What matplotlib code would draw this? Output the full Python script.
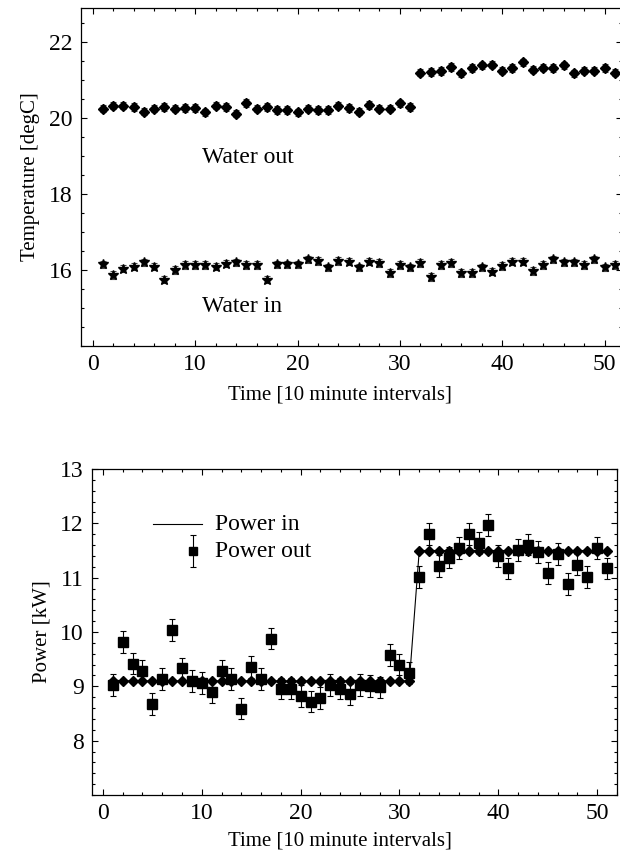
import numpy as np
import matplotlib
matplotlib.use('Agg')
import matplotlib.pyplot as plt
from matplotlib.ticker import MultipleLocator

plt.rcParams['font.family'] = ['Liberation Serif', 'DejaVu Serif']

# ---------------- data ----------------
time = list(range(1, 52))

water_out = [20.25, 20.33, 20.33, 20.30, 20.17, 20.25, 20.30, 20.25, 20.27, 20.27,
             20.15, 20.33, 20.30, 20.12, 20.40, 20.25, 20.30, 20.22, 20.22, 20.15,
             20.25, 20.22, 20.22, 20.33, 20.27, 20.17, 20.34, 20.25, 20.25, 20.39,
             20.30, 21.20, 21.22, 21.24, 21.35, 21.18, 21.32, 21.39, 21.41, 21.25,
             21.32, 21.47, 21.28, 21.33, 21.32, 21.39, 21.18, 21.25, 21.25, 21.32,
             21.20]

water_in = [16.15, 15.87, 16.04, 16.09, 16.20, 16.09, 15.75, 16.00, 16.13, 16.13,
            16.13, 16.09, 16.17, 16.20, 16.13, 16.13, 15.75, 16.15, 16.15, 16.15,
            16.28, 16.24, 16.07, 16.24, 16.22, 16.07, 16.22, 16.18, 15.93, 16.13,
            16.07, 16.18, 15.81, 16.13, 16.18, 15.93, 15.93, 16.07, 15.96, 16.10,
            16.22, 16.22, 15.98, 16.13, 16.28, 16.20, 16.20, 16.13, 16.28, 16.07,
            16.13]

temp_err = 0.1

power_in = [9.1, 9.1, 9.1, 9.1, 9.1, 9.1, 9.1, 9.1, 9.1, 9.1,
            9.1, 9.1, 9.1, 9.1, 9.1, 9.1, 9.1, 9.1, 9.1, 9.1,
            9.1, 9.1, 9.1, 9.1, 9.1, 9.1, 9.1, 9.1, 9.1, 9.1,
            9.1, 11.5, 11.5, 11.5, 11.5, 11.5, 11.5, 11.5, 11.5, 11.5,
            11.5, 11.5, 11.5, 11.5, 11.5, 11.5, 11.5, 11.5, 11.5, 11.5,
            11.5]

power_out = [9.02, 9.82, 9.42, 9.28, 8.68, 9.13, 10.04, 9.33, 9.10, 9.06,
             8.90, 9.28, 9.13, 8.59, 9.36, 9.13, 9.88, 8.96, 8.96, 8.82,
             8.72, 8.79, 9.02, 8.96, 8.85, 9.02, 9.00, 8.98, 9.58, 9.40,
             9.25, 11.01, 11.81, 11.21, 11.37, 11.54, 11.81, 11.64, 11.97, 11.40,
             11.17, 11.51, 11.61, 11.47, 11.09, 11.44, 10.89, 11.24, 11.01, 11.54,
             11.17]

power_err = 0.2

x_ticks = [0, 10, 20, 30, 40, 50]
temp_ticks = [16, 18, 20, 22]
power_ticks = [8, 9, 10, 11, 12, 13]

# ---------------- figure ----------------
fig = plt.figure(figsize=(6.2, 8.59), dpi=100)
W, H = 620.0, 859.0
ax1 = fig.add_axes([80.5 / W, 1 - 346 / H, (622 - 80.5) / W, (346 - 8) / H])
ax2 = fig.add_axes([92 / W, 1 - 795 / H, (617 - 92) / W, (795 - 469) / H])

FS_TICK = 17
FS_LAB = 15

for ax in (ax1, ax2):
    ax.tick_params(which='both', direction='in', top=True, right=True,
                   labelsize=FS_TICK, width=0.8, pad=6)
    ax.tick_params(which='major', length=4)
    ax.tick_params(which='minor', length=2.5)
    for s in ax.spines.values():
        s.set_linewidth(0.9)
    ax.set_xticks(x_ticks)
    ax.xaxis.set_minor_locator(MultipleLocator(2))

# --- top: temperatures ---
ax1.errorbar(time, water_out, yerr=temp_err, fmt='D', ms=4.8, color='black',
             ecolor='#444444', elinewidth=0.8, capsize=2.5, capthick=0.8)
ax1.errorbar(time, water_in, yerr=temp_err, fmt='*', ms=7, color='black',
             ecolor='#444444', elinewidth=0.8, capsize=2.5, capthick=0.8)
ax1.set_xlim(-1.2, 51.7)
ax1.set_ylim(14.0, 22.9)
ax1.set_yticks(temp_ticks)
ax1.yaxis.set_minor_locator(MultipleLocator(0.5))
ax1.set_xlabel('Time [10 minute intervals]', fontsize=FS_LAB, labelpad=7, x=0.48)
ax1.set_ylabel('Temperature [degC]', fontsize=FS_LAB, labelpad=6)
ax1.text(10.7, 18.97, 'Water out', fontsize=FS_TICK, va='center', ha='left')
ax1.text(10.7, 15.03, 'Water in', fontsize=FS_TICK, va='center', ha='left')

# --- bottom: power ---
ax2.plot(time, power_in, '-', color='black', lw=0.8, marker='D', ms=5,
         mfc='black', mec='black')
ax2.errorbar(time, power_out, yerr=power_err, fmt='s', ms=7.5, color='black',
             ecolor='black', elinewidth=0.8, capsize=2.5, capthick=0.8)
ax2.set_xlim(-1.1, 52.0)
ax2.set_ylim(7.0, 13.0)
ax2.set_yticks(power_ticks)
ax2.yaxis.set_minor_locator(MultipleLocator(0.2))
ax2.set_xlabel('Time [10 minute intervals]', fontsize=FS_LAB, labelpad=5, x=0.473)
ax2.set_ylabel('Power [kW]', fontsize=FS_LAB, labelpad=6)

# manual legend (axes coordinates)
tr = ax2.transAxes
ax2.plot([0.116, 0.210], [0.831, 0.831], '-', color='black', lw=0.8, transform=tr)
ax2.errorbar([0.192], [0.748], yerr=[0.05], fmt='s', ms=6, color='black',
             elinewidth=0.8, capsize=2.5, capthick=0.8, transform=tr)
ax2.text(0.234, 0.831, 'Power in', fontsize=FS_TICK, va='center', ha='left', transform=tr)
ax2.text(0.234, 0.748, 'Power out', fontsize=FS_TICK, va='center', ha='left', transform=tr)

fig.savefig('out.png', dpi=100)
